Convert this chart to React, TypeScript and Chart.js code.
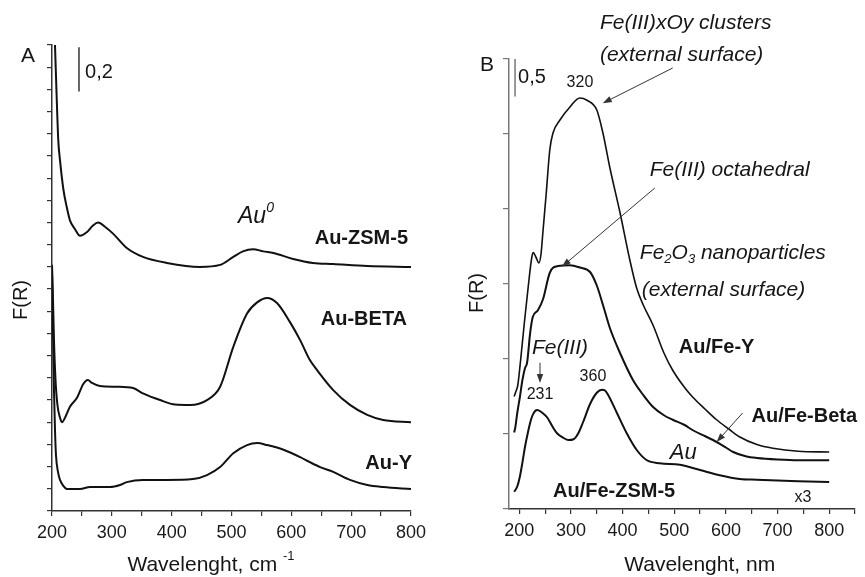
import React, { useEffect, useRef } from 'react';
import { Chart, registerables } from 'chart.js';

Chart.register(...registerables);

const FONT = "'Liberation Sans', Arial, Helvetica, sans-serif";

// ---------- Panel A : Au zeolites ----------
const aZsm5Wave = [200, 205, 208, 210.5, 213.4, 219, 224.6, 230, 238.5, 246.8, 258.5, 268, 277, 289, 302, 325, 352, 392, 447, 481, 503, 519, 536, 553, 570, 603, 636, 670, 727, 800];
const aZsm5FR = [2.5, 2.1, 1.85, 1.67, 1.58, 1.45, 1.37, 1.31, 1.27, 1.24, 1.257, 1.285, 1.3, 1.28, 1.25, 1.185, 1.145, 1.118, 1.1, 1.109, 1.145, 1.17, 1.18, 1.17, 1.163, 1.136, 1.118, 1.113, 1.104, 1.1];

const aBetaWave = [200, 201.7, 203.3, 205.9, 209, 213.4, 216.7, 221.7, 230, 241.8, 251.8, 260, 266.9, 280, 308.7, 335.5, 352, 380.6, 405.7, 430.8, 459, 481, 503, 526, 542.8, 559.5, 576, 598, 614.7, 631, 643, 670, 698, 726.8, 753.5, 800];
const aBetaFR = [1.11, 0.95, 0.77, 0.59, 0.48, 0.42, 0.4, 0.42, 0.47, 0.51, 0.57, 0.59, 0.577, 0.563, 0.56, 0.554, 0.53, 0.5, 0.48, 0.478, 0.5, 0.56, 0.74, 0.89, 0.94, 0.96, 0.937, 0.85, 0.77, 0.68, 0.635, 0.545, 0.478, 0.433, 0.41, 0.4];

const aYWave = [200, 201.7, 203.3, 205, 206.7, 210, 213.4, 219, 225, 233.4, 246.8, 263.5, 297, 313.7, 325, 352, 392, 435.8, 459, 481, 503, 526, 543, 559.5, 588, 614.7, 631, 648, 670, 698, 727, 753.5, 800];
const aYFR = [1.086, 0.816, 0.545, 0.365, 0.25, 0.176, 0.14, 0.113, 0.099, 0.099, 0.099, 0.108, 0.108, 0.117, 0.13, 0.14, 0.14, 0.144, 0.162, 0.198, 0.26, 0.297, 0.306, 0.297, 0.275, 0.243, 0.22, 0.198, 0.176, 0.14, 0.117, 0.108, 0.099];

// ---------- Panel B : Au/Fe zeolites ----------
const bYWave = [190, 193, 197, 203, 210, 217, 224, 227, 232, 238, 242, 246, 252, 259, 265, 279, 298, 317, 331, 350, 362, 375, 395, 414, 427, 440, 459, 480, 497, 520, 536, 560, 582, 605, 627, 660, 691, 740, 800];
const bYFR = [1.5, 1.56, 1.65, 2.02, 2.5, 2.95, 3.35, 3.42, 3.36, 3.28, 3.4, 3.72, 4.2, 4.79, 5.01, 5.19, 5.36, 5.48, 5.45, 5.32, 5.01, 4.56, 3.95, 3.32, 2.95, 2.72, 2.45, 2.08, 1.85, 1.62, 1.49, 1.33, 1.19, 1.07, 0.96, 0.86, 0.81, 0.77, 0.76];

const bBetaWave = [190, 192, 196, 201, 206, 211, 215, 221, 226, 236, 246, 259, 275, 298, 317, 337, 350, 362, 375, 395, 420, 440, 459, 480, 497, 520, 536, 560, 575, 600, 614, 640, 660, 700, 740, 800];
const bBetaFR = [1.02, 1.08, 1.28, 1.49, 1.72, 1.88, 1.95, 2.35, 2.56, 2.65, 2.8, 3.15, 3.24, 3.25, 3.22, 3.16, 2.98, 2.72, 2.42, 2.08, 1.72, 1.52, 1.36, 1.25, 1.19, 1.12, 1.05, 0.97, 0.92, 0.82, 0.76, 0.7, 0.68, 0.66, 0.65, 0.65];

const bZsm5Wave = [190, 192, 196, 201, 206, 211, 216, 221, 225, 231, 235, 245, 254, 265, 273, 285, 295, 305, 315, 323, 337, 350, 360, 366, 372, 389, 408, 427, 447, 472, 511, 550, 588, 627, 660, 700, 740, 800];
const bZsm5FR = [0.23, 0.25, 0.3, 0.43, 0.62, 0.83, 1.0, 1.15, 1.24, 1.31, 1.32, 1.28, 1.22, 1.09, 1.01, 0.95, 0.92, 0.93, 1.02, 1.15, 1.4, 1.55, 1.59, 1.58, 1.52, 1.28, 1.01, 0.79, 0.65, 0.61, 0.59, 0.52, 0.45, 0.4, 0.39, 0.38, 0.37, 0.36];

const pts = (xs: number[], ys: number[]) => xs.map((x, i) => ({ x, y: ys[i] }));

type Seg = { t: string; sub?: boolean; sup?: boolean };
type TextItem = { segs: Seg[]; x: number; y: number; size: number; weight?: string; italic?: boolean; align?: 'left' | 'center' | 'right'; rotate?: boolean };
type Arrow = { x1: number; y1: number; x2: number; y2: number };
type Bar = { x: number; y1: number; y2: number; color: string };

function fontFor(t: TextItem, s: Seg) {
  const size = s.sub || s.sup ? Math.round(t.size * 0.62) : t.size;
  return `${t.italic ? 'italic ' : ''}${t.weight || 'normal'} ${size}px ${FONT}`;
}

function drawText(ctx: CanvasRenderingContext2D, t: TextItem, px: number, py: number) {
  ctx.save();
  ctx.translate(px, py);
  if (t.rotate) ctx.rotate(-Math.PI / 2);
  ctx.textBaseline = 'middle';
  ctx.textAlign = 'left';
  ctx.fillStyle = '#161616';
  let total = 0;
  const widths = t.segs.map((s) => {
    ctx.font = fontFor(t, s);
    const w = ctx.measureText(s.t).width;
    total += w;
    return w;
  });
  let cx = t.align === 'center' ? -total / 2 : t.align === 'right' ? -total : 0;
  t.segs.forEach((s, i) => {
    ctx.font = fontFor(t, s);
    const dy = s.sub ? t.size * 0.3 : s.sup ? -t.size * 0.4 : 0;
    ctx.fillText(s.t, cx, dy);
    cx += widths[i];
  });
  ctx.restore();
}

const annotPlugin = {
  id: 'annot',
  afterDraw(chart: any, _a: any, opts: any) {
    const ctx: CanvasRenderingContext2D = chart.ctx;
    const xs = chart.scales.x;
    const ys = chart.scales.y;
    ctx.save();
    (opts.bars || []).forEach((b: Bar) => {
      const px = xs.getPixelForValue(b.x);
      ctx.beginPath();
      ctx.strokeStyle = b.color;
      ctx.lineWidth = 1.5;
      ctx.moveTo(px, ys.getPixelForValue(b.y1));
      ctx.lineTo(px, ys.getPixelForValue(b.y2));
      ctx.stroke();
    });
    (opts.arrows || []).forEach((a: Arrow) => {
      const x1 = xs.getPixelForValue(a.x1), y1 = ys.getPixelForValue(a.y1);
      const x2 = xs.getPixelForValue(a.x2), y2 = ys.getPixelForValue(a.y2);
      const ang = Math.atan2(y2 - y1, x2 - x1);
      const hl = 9, hw = 3.2;
      const c = Math.cos(ang), s = Math.sin(ang);
      ctx.strokeStyle = '#333';
      ctx.lineWidth = 1;
      ctx.beginPath();
      ctx.moveTo(x1, y1);
      ctx.lineTo(x2 - c * hl * 0.8, y2 - s * hl * 0.8);
      ctx.stroke();
      ctx.fillStyle = '#333';
      ctx.beginPath();
      ctx.moveTo(x2, y2);
      ctx.lineTo(x2 - c * hl - s * hw, y2 - s * hl + c * hw);
      ctx.lineTo(x2 - c * hl + s * hw, y2 - s * hl - c * hw);
      ctx.closePath();
      ctx.fill();
    });
    (opts.texts || []).forEach((t: TextItem) => drawText(ctx, t, xs.getPixelForValue(t.x), ys.getPixelForValue(t.y)));
    ctx.restore();
  },
};

const lineDs = (data: { x: number; y: number }[], width: number) => ({
  data,
  borderColor: '#111',
  borderWidth: width,
  pointRadius: 0,
  fill: false,
  cubicInterpolationMode: 'monotone' as const,
});

const tickFont = { family: FONT, size: 18 };

function configA(): any {
  return {
    type: 'line',
    data: {
      datasets: [
        lineDs(pts(aZsm5Wave, aZsm5FR), 2),
        lineDs(pts(aBetaWave, aBetaFR), 2),
        lineDs(pts(aYWave, aYFR), 2),
      ],
    },
    plugins: [annotPlugin],
    options: {
      animation: false,
      responsive: false,
      maintainAspectRatio: false,
      layout: { padding: { left: 46, top: 45, right: 29, bottom: 0 } },
      plugins: {
        legend: { display: false },
        tooltip: { enabled: false },
        annot: {
          bars: [{ x: 245.1, y1: 2.09, y2: 1.89, color: '#333' }],
          arrows: [],
          texts: [
            { segs: [{ t: 'A' }], x: 159.9, y: 2.05, size: 21, align: 'center' },
            { segs: [{ t: '0,2' }], x: 255.2, y: 1.974, size: 20 },
            { segs: [{ t: 'Au' }, { t: '0', sup: true }], x: 510.9, y: 1.325, size: 23, italic: true },
            { segs: [{ t: 'Au-ZSM-5' }], x: 795, y: 1.23, size: 20, weight: 'bold', align: 'right' },
            { segs: [{ t: 'Au-BETA' }], x: 793.4, y: 0.861, size: 20, weight: 'bold', align: 'right' },
            { segs: [{ t: 'Au-Y' }], x: 801.7, y: 0.216, size: 20, weight: 'bold', align: 'right' },
            { segs: [{ t: 'Wavelenght, cm ' }, { t: '-1', sup: true }], x: 465.7, y: -0.243, size: 21, align: 'center' },
            { segs: [{ t: 'F(R)' }], x: 148.2, y: 0.951, size: 20, align: 'center', rotate: true },
          ],
        },
      },
      scales: {
        x: {
          type: 'linear',
          min: 200,
          max: 800,
          afterFit: (s: any) => { s.height = 66; },
          ticks: {
            stepSize: 50,
            includeBounds: false,
            autoSkip: false,
            maxRotation: 0,
            padding: 6,
            font: tickFont,
            color: '#1a1a1a',
            callback: (v: number) => (v % 100 === 0 ? String(v) : ''),
          },
          grid: { drawOnChartArea: false, drawTicks: true, tickLength: 5, color: '#333', lineWidth: 1.2 },
          border: { display: true, color: '#333', width: 1.5 },
        },
        y: {
          type: 'linear',
          min: 0,
          max: 2.1,
          afterFit: (s: any) => { s.width = 6; },
          ticks: { stepSize: 0.1, display: false },
          grid: { drawOnChartArea: false, drawTicks: true, tickLength: 5, color: '#333', lineWidth: 1.2 },
          border: { display: true, color: '#333', width: 1.5 },
        },
      },
    },
  };
}

function configB(): any {
  return {
    type: 'line',
    data: {
      datasets: [
        lineDs(pts(bYWave, bYFR), 1.6),
        lineDs(pts(bBetaWave, bBetaFR), 2),
        lineDs(pts(bZsm5Wave, bZsm5FR), 2),
      ],
    },
    plugins: [annotPlugin],
    options: {
      animation: false,
      responsive: false,
      maintainAspectRatio: false,
      layout: { padding: { left: 63, top: 59, right: 10, bottom: 0 } },
      plugins: {
        legend: { display: false },
        tooltip: { enabled: false },
        annot: {
          bars: [{ x: 191.7, y1: 6.0, y2: 5.5, color: '#777' }],
          arrows: [
            { x1: 497, y1: 5.88, x2: 361.6, y2: 5.41 },
            { x1: 462.3, y1: 4.28, x2: 282.4, y2: 3.23 },
            { x1: 240, y1: 1.95, x2: 240, y2: 1.68 },
            { x1: 632.3, y1: 1.28, x2: 582, y2: 0.893 },
          ],
          texts: [
            { segs: [{ t: 'B' }], x: 137.5, y: 5.92, size: 21, align: 'center' },
            { segs: [{ t: '0,5' }], x: 197.5, y: 5.75, size: 20 },
            { segs: [{ t: '320' }], x: 317.4, y: 5.68, size: 16, align: 'center' },
            { segs: [{ t: 'Fe(III)xOy clusters' }], x: 356.1, y: 6.48, size: 21, italic: true },
            { segs: [{ t: '(external surface)' }], x: 356.1, y: 6.05, size: 21, italic: true },
            { segs: [{ t: 'Fe(III) octahedral' }], x: 452.6, y: 4.52, size: 21, italic: true },
            { segs: [{ t: 'Fe' }, { t: '2', sub: true }, { t: 'O' }, { t: '3', sub: true }, { t: ' nanoparticles' }], x: 433.3, y: 3.41, size: 21, italic: true },
            { segs: [{ t: '(external surface)' }], x: 437.3, y: 2.92, size: 21, italic: true },
            { segs: [{ t: 'Fe(III)' }], x: 224.6, y: 2.15, size: 21, italic: true },
            { segs: [{ t: '231' }], x: 240, y: 1.52, size: 16, align: 'center' },
            { segs: [{ t: '360' }], x: 342.6, y: 1.77, size: 16, align: 'center' },
            { segs: [{ t: 'Au/Fe-Y' }], x: 582, y: 2.15, size: 20, weight: 'bold', align: 'center' },
            { segs: [{ t: 'Au/Fe-Beta' }], x: 649.7, y: 1.23, size: 20, weight: 'bold' },
            { segs: [{ t: 'Au' }], x: 491.3, y: 0.747, size: 22, italic: true },
            { segs: [{ t: 'Au/Fe-ZSM-5' }], x: 265.2, y: 0.227, size: 20, weight: 'bold' },
            { segs: [{ t: 'x3' }], x: 732.9, y: 0.147, size: 16 },
            { segs: [{ t: 'Wavelenght, nm' }], x: 549.2, y: -0.747, size: 21, align: 'center' },
            { segs: [{ t: 'F(R)' }], x: 118.2, y: 2.88, size: 20, align: 'center', rotate: true },
          ],
        },
      },
      scales: {
        x: {
          type: 'linear',
          min: 180,
          max: 850,
          afterFit: (s: any) => { s.height = 68; },
          ticks: {
            stepSize: 50,
            includeBounds: false,
            autoSkip: false,
            maxRotation: 0,
            padding: 6,
            font: tickFont,
            color: '#1a1a1a',
            callback: (v: number) => (v % 100 === 0 && v <= 800 ? String(v) : ''),
          },
          grid: { drawOnChartArea: false, drawTicks: true, tickLength: 5, color: '#333', lineWidth: 1.2 },
          border: { display: true, color: '#333', width: 1.5 },
        },
        y: {
          type: 'linear',
          min: 0,
          max: 6,
          afterFit: (s: any) => { s.width = 6; },
          ticks: { stepSize: 1, display: false },
          grid: { drawOnChartArea: false, drawTicks: true, tickLength: 6, color: '#777', lineWidth: 1.2 },
          border: { display: true, color: '#777', width: 1.5 },
        },
      },
    },
  };
}

function Panel({ left, width, make }: { left: number; width: number; make: () => any }) {
  const ref = useRef<HTMLCanvasElement>(null);
  useEffect(() => {
    const chart = new Chart(ref.current as HTMLCanvasElement, make());
    return () => chart.destroy();
  }, []);
  return (
    <canvas
      ref={ref}
      width={width}
      height={577}
      style={{ position: 'absolute', left, top: 0, width, height: 577 }}
    />
  );
}

export default function App() {
  return (
    <div style={{ position: 'absolute', left: 0, top: 0, width: 865, height: 577, background: '#fff', overflow: 'hidden' }}>
      <Panel left={0} width={440} make={configA} />
      <Panel left={440} width={425} make={configB} />
    </div>
  );
}
